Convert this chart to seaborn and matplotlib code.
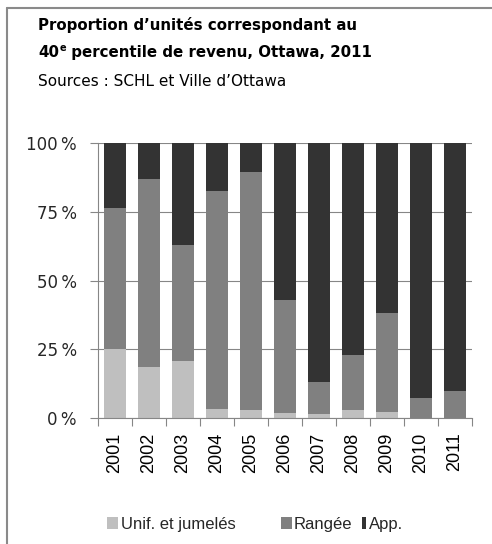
import matplotlib
matplotlib.use("Agg")
import matplotlib.pyplot as plt
import seaborn as sns
import pandas as pd
import numpy as np
from matplotlib.patches import Rectangle, Patch
from matplotlib.lines import Line2D
from matplotlib.legend_handler import HandlerPatch

# Share of units (%) affordable at the 40th income percentile, by dwelling type
years = ["2001", "2002", "2003", "2004", "2005", "2006",
         "2007", "2008", "2009", "2010", "2011"]
unif = [25.2, 18.7, 20.7, 3.4, 2.9, 1.8, 1.3, 2.9, 2.3, 0.0, 0.0]
rangee = [51.1, 68.4, 42.4, 79.4, 86.5, 41.3, 11.8, 20.0, 36.1, 7.4, 9.9]
app = [23.7, 12.9, 36.9, 17.2, 10.6, 56.9, 86.9, 77.1, 61.6, 92.6, 90.1]

series_names = ["Unif. et jumelés", "Rangée", "App."]
series_colors = ["#bfbfbf", "#808080", "#333333"]
ytick_values = [0, 25, 50, 75, 100]
ytick_labels = ["0\u2009%", "25\u2009%", "50\u2009%", "75\u2009%", "100\u2009%"]

title_lines = ["Proportion d\u2019unités correspondant au",
               "40", "e", " percentile de revenu, Ottawa, 2011"]
source_line = "Sources : SCHL et Ville d\u2019Ottawa"

sns.set_theme(style="white")
plt.rcParams["font.family"] = ["DejaVu Sans"]

W, H, DPI = 492, 544, 100
fig = plt.figure(figsize=(W / DPI, H / DPI), dpi=DPI)
fig.patch.set_facecolor("white")


def px_rect(left, top, right, bottom):
    return [left / W, 1 - bottom / H, (right - left) / W, (bottom - top) / H]


def fx(x):
    return x / W


def fy(y):
    return 1 - y / H


ax = fig.add_axes(px_rect(98, 143.3, 472, 418))

df = pd.DataFrame({"year": years, "unif": unif, "rangee": rangee, "app": app})
df["top_unif"] = df["unif"]
df["top_rangee"] = df["unif"] + df["rangee"]
df["top_app"] = df["top_rangee"] + df["app"]

# Stack built from overlapping cumulative bars, tallest drawn first
for col, color in zip(["top_app", "top_rangee", "top_unif"], series_colors[::-1]):
    sns.barplot(data=df, x="year", y=col, color=color, saturation=1,
                width=0.66, linewidth=0, errorbar=None, ax=ax)

grid_c = "#868686"
ax.set_xlim(-0.5, len(years) - 0.5)
ax.set_ylim(0, 100)
ax.set_xlabel("")
ax.set_ylabel("")
ax.set_yticks(ytick_values)
ax.set_yticklabels(ytick_labels, fontfamily="DejaVu Sans", fontsize=12)
ax.set_xticks(range(len(years)))
ax.set_xticklabels(years, rotation=90, fontfamily="Liberation Sans", fontsize=13)
ax.set_xticks(np.arange(-0.5, len(years), 1.0), minor=True)

ax.yaxis.grid(True, color=grid_c, linewidth=0.8)
ax.set_axisbelow(True)
for side in ("top", "right"):
    ax.spines[side].set_visible(False)
for side in ("left", "bottom"):
    ax.spines[side].set_color(grid_c)
    ax.spines[side].set_linewidth(0.8)

ax.tick_params(axis="x", which="major", length=0, pad=10.5, colors="black")
ax.tick_params(axis="x", which="minor", length=5.8, width=0.8, color=grid_c,
               direction="out", bottom=True)
ax.tick_params(axis="y", which="major", length=5.8, width=0.8, color=grid_c,
               direction="out", left=True, pad=9.5)

# Heading
title_kw = dict(fontfamily="DejaVu Sans", fontweight="bold", fontsize=10.8, color="black")
fig.text(fx(38), fy(30), title_lines[0], va="baseline", ha="left", **title_kw)
t40 = fig.text(fx(38), fy(56.7), title_lines[1], va="baseline", ha="left", **title_kw)
te = fig.text(0, 0, title_lines[2], fontfamily="DejaVu Sans", fontweight="bold",
              fontsize=7, va="baseline", ha="left", color="black")
fig.canvas.draw()
r = fig.canvas.get_renderer()
bb40 = t40.get_window_extent(r)
te.set_position((bb40.x1 / W + 0.5 / W, fy(56.7 - 5.5)))
fig.canvas.draw()
bbe = te.get_window_extent(r)
fig.text(bbe.x1 / W, fy(56.7), title_lines[3], va="baseline", ha="left", **title_kw)
fig.text(fx(38), fy(86), source_line, va="baseline", ha="left",
         fontfamily="DejaVu Sans", fontsize=11, color="black")

# Frame edges along the top and left of the figure
fig.add_artist(Line2D([fx(7), fx(7)], [0, fy(8)], transform=fig.transFigure,
                      color="#8a8a8a", linewidth=1.5))
fig.add_artist(Line2D([fx(7), 1], [fy(8), fy(8)], transform=fig.transFigure,
                      color="#8a8a8a", linewidth=1.5))


def narrow_bar(legend, orig_handle, xdescent, ydescent, width, height, fontsize):
    w = width * 4.0 / 11.0
    return Rectangle((-xdescent + width - w, -ydescent), w, height)


leg_font = dict(family="Liberation Sans", size=12)
leg_common = dict(loc="center left", frameon=False, borderpad=0,
                  handlelength=0.66, handleheight=0.75, handletextpad=0.15,
                  prop=leg_font, borderaxespad=0)

handles = [Patch(facecolor=c, edgecolor="none", label=n)
           for c, n in zip(series_colors, series_names)]

fig.legend(handles=handles[:1], bbox_to_anchor=(fx(107.3), fy(524)), **leg_common)
fig.legend(handles=handles[1:], bbox_to_anchor=(fx(280.5), fy(524)), ncol=2,
           columnspacing=0.16,
           handler_map={handles[2]: HandlerPatch(patch_func=narrow_bar)},
           **leg_common)

fig.savefig("out.png", dpi=DPI, facecolor="white")
